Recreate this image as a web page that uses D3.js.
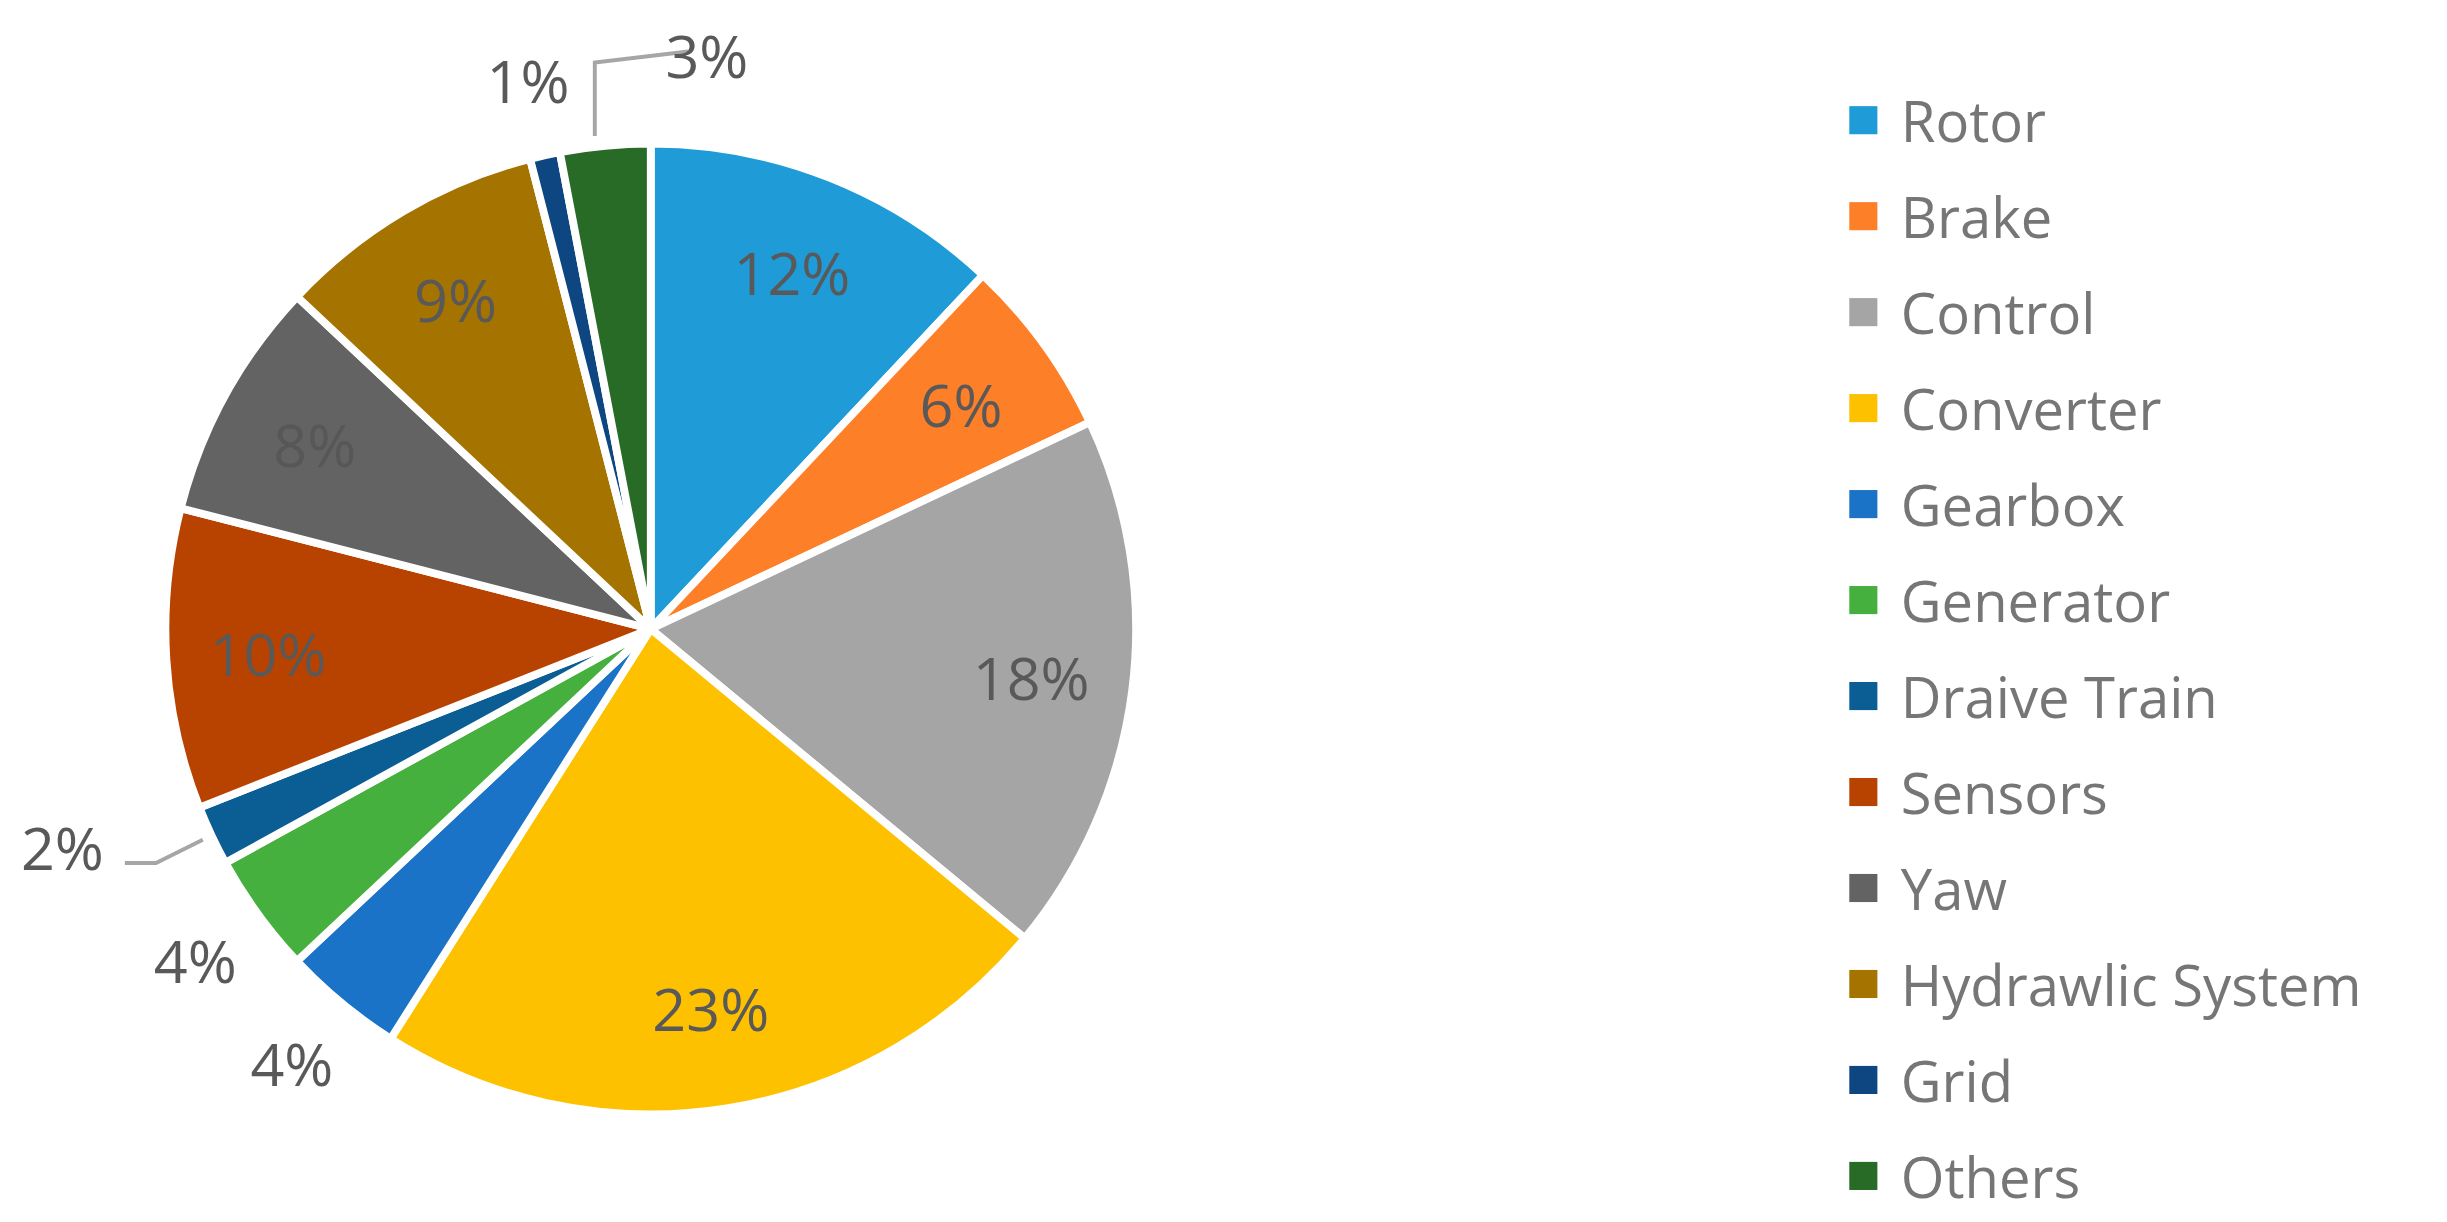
<!DOCTYPE html>
<html>
<head>
<meta charset="utf-8">
<script src="https://cdn.jsdelivr.net/npm/d3@7"></script>
<style>
  html, body { margin: 0; padding: 0; background: #fff; }
  svg { display: block; }
</style>
</head>
<body>
<svg id="chart" width="2447" height="1222" viewBox="0 0 1568 783"></svg>
<script>
const categories = ['Rotor','Brake','Control','Converter','Gearbox','Generator','Draive Train','Sensors','Yaw','Hydrawlic System','Grid','Others'];
const values = [12, 6, 18, 23, 4, 4, 2, 10, 8, 9, 1, 3];
const colors = ['#1f9bd7','#fd7f28','#a5a5a5','#fdc100','#1a73c6','#45b03d','#0b5e93','#b84300','#636363','#a57300','#0d4681','#276b26'];

const cx = 417, cy = 403, radius = 311;
const svg = d3.select('#chart');
const g = svg.append('g').attr('transform', `translate(${cx},${cy})`);

const pie = d3.pie().value(d => d.value).sort(null);
const arc = d3.arc().innerRadius(0).outerRadius(radius);
const data = categories.map((c, i) => ({name: c, value: values[i], color: colors[i]}));
const arcs = pie(data);

g.selectAll('path.slice').data(arcs).enter().append('path')
  .attr('class', 'slice')
  .attr('d', arc)
  .attr('fill', d => d.data.color)
  .attr('stroke', '#fff')
  .attr('stroke-width', 5)
  .attr('stroke-linejoin', 'round');

// label placement: radius factor, plus optional leader for small slices
function polar(a, r) { return [r * Math.sin(a), -r * Math.cos(a)]; }
const labelR = i => (values[i] >= 6 ? 0.79 : 1.16);

arcs.forEach((d, i) => {
  const mid = (d.startAngle + d.endAngle) / 2;
  let [x, y] = polar(mid, radius * labelR(i));
  if (d.data.name === 'Draive Train') {
    const [ex, ey] = polar(mid, radius * 1.02);
    x = -377; y = 140;
    g.append('path').attr('d', `M${ex},${ey} L${ex - 30},${y + 10} L${x + 40},${y + 10}`)
      .attr('fill', 'none').attr('stroke', '#a6a6a6').attr('stroke-width', 2.5);
  }
  if (d.data.name === 'Others') {
    const [ex, ey] = polar(mid, radius * 1.02);
    x = 36; y = -368;
    g.append('path').attr('d', `M${ex - 6},${ey} L${ex - 6},${y + 5} L${x - 12},${y - 2}`)
      .attr('fill', 'none').attr('stroke', '#a6a6a6').attr('stroke-width', 2.5);
  }
  g.append('text')
    .attr('x', x).attr('y', y)
    .attr('text-anchor', 'middle')
    .attr('dominant-baseline', 'central')
    .attr('font-family', 'Open Sans, Liberation Sans, sans-serif')
    .attr('font-size', 38)
    .attr('fill', d.data.name === 'Yaw' ? '#575757' : '#595959')
    .text(d.data.value + '%');
});

// legend
const legend = svg.append('g').attr('transform', 'translate(1185,77)');
const row = legend.selectAll('g').data(data).enter().append('g')
  .attr('transform', (d, i) => `translate(0,${i * 61.5})`);
row.append('rect').attr('x', 0).attr('y', -9).attr('width', 18).attr('height', 18)
  .attr('fill', d => d.color);
row.append('text').attr('x', 33).attr('y', 0)
  .attr('dominant-baseline', 'central')
  .attr('font-family', 'Open Sans, Liberation Sans, sans-serif')
  .attr('font-size', 36)
  .attr('fill', '#767676')
  .text(d => d.name);
</script>
</body>
</html>
